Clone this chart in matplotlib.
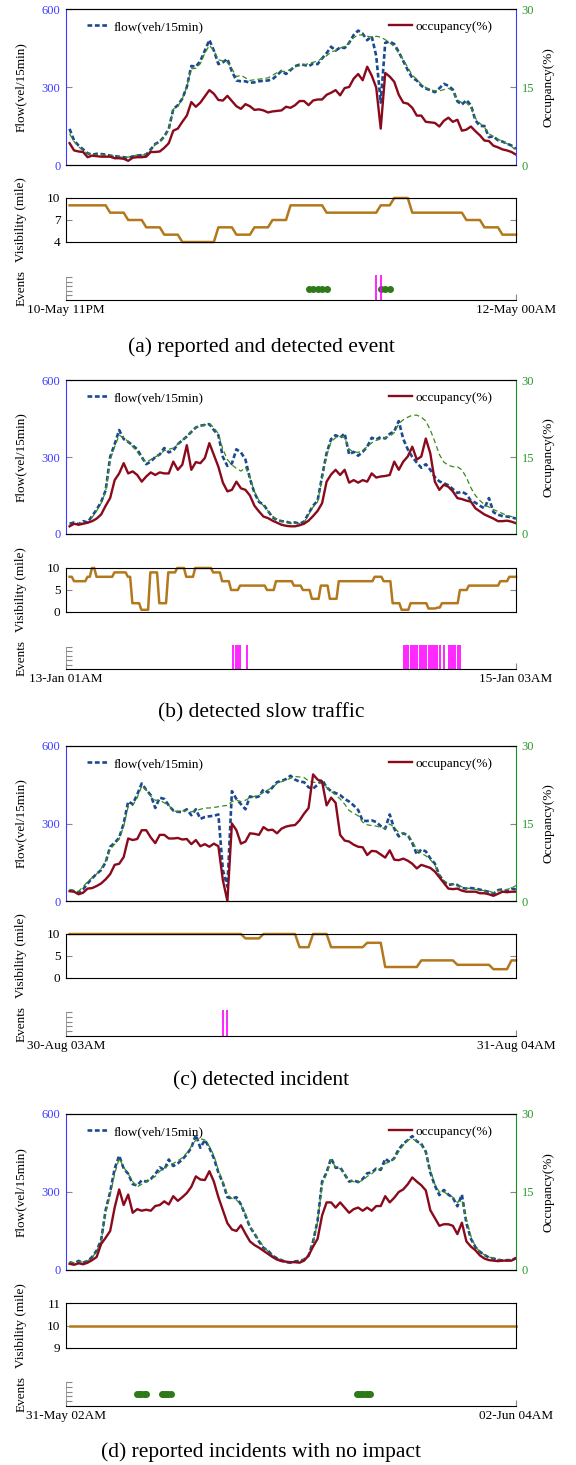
import numpy as np
import matplotlib
matplotlib.use('Agg')
import matplotlib.pyplot as plt

plt.rcParams['font.family'] = ['Liberation Serif', 'DejaVu Serif']

# ---------------- panel (a): 10-May 11PM .. 12-May 00AM, 15-min steps
a_flow = [139, 94, 75, 60, 45, 40, 43, 42, 40, 36,
          34, 32, 30, 27, 33, 36, 38, 40, 60, 81,
          90, 110, 139, 215, 230, 255, 300, 381, 378, 400,
          440, 481, 440, 388, 395, 408, 360, 325, 322, 322,
          316, 318, 322, 324, 325, 330, 345, 362, 350, 365,
          380, 386, 385, 380, 390, 388, 410, 430, 455, 440,
          452, 450, 470, 500, 517, 505, 480, 495, 420, 240,
          470, 475, 465, 435, 400, 365, 335, 325, 305, 294,
          288, 280, 295, 312, 305, 290, 245, 232, 250, 230,
          172, 150, 150, 107, 110, 95, 90, 82, 75, 62]
a_pred = [120, 90, 70, 55, 45, 40, 40, 40, 38, 36,
          33, 31, 30, 30, 35, 38, 38, 40, 55, 80,
          90, 110, 135, 215, 225, 255, 300, 370, 372, 390,
          430, 460, 440, 405, 400, 395, 370, 340, 345, 335,
          325, 328, 330, 333, 335, 345, 355, 360, 360, 368,
          378, 382, 385, 390, 395, 400, 410, 420, 435, 440,
          450, 455, 470, 490, 500, 500, 495, 492, 495, 492,
          482, 470, 455, 430, 405, 375, 345, 330, 310, 298,
          290, 285, 285, 290, 295, 285, 250, 240, 240, 220,
          180, 160, 145, 120, 110, 100, 90, 82, 72, 55]
a_occ = [4.2, 2.8, 2.6, 2.5, 1.5, 1.8, 1.7, 1.6, 1.6, 1.6,
         1.3, 1.3, 1.2, 0.8, 1.4, 1.5, 1.5, 1.6, 2.5, 2.5,
         2.6, 3.3, 4.2, 6.6, 7.0, 8.3, 9.5, 12.1, 11.2, 12.0,
         13.2, 14.4, 13.7, 12.5, 12.4, 13.3, 12.3, 11.3, 10.8, 11.7,
         11.3, 10.6, 10.7, 10.5, 10.1, 10.3, 10.4, 10.5, 11.2, 11.0,
         11.5, 12.3, 12.3, 11.5, 12.4, 12.6, 12.6, 13.5, 13.9, 14.4,
         13.4, 14.8, 15.0, 16.6, 17.5, 16.3, 18.9, 17.2, 14.9, 7.0,
         17.7, 17.0, 16.0, 13.5, 12.0, 11.8, 11.0, 9.5, 9.5, 8.3,
         8.2, 8.1, 7.4, 8.5, 9.1, 8.3, 8.7, 6.6, 6.8, 7.4,
         6.5, 5.7, 4.7, 4.6, 3.7, 3.4, 3.0, 2.8, 2.5, 2.0]
a_vis_levels = [9, 8, 7, 6, 5, 4, 6, 5, 6, 7, 9, 8, 9, 10, 8, 7, 6, 5]
a_vis_runs = [9, 4, 4, 4, 4, 8, 4, 4, 4, 4, 8, 12, 3, 4, 12, 4, 4, 4]
a_reported = [53, 54, 55, 56, 57, 69, 70, 71]
a_detected = [68, 69]

# ---------------- panel (b): 13-Jan 01AM .. 15-Jan 03AM, 30-min samples
b_flow = [40, 45, 38, 50, 45, 70, 95, 125, 170, 300,
          350, 405, 370, 359, 345, 330, 300, 272, 282, 300,
          310, 335, 318, 325, 350, 365, 380, 398, 415, 422,
          425, 428, 405, 385, 300, 265, 275, 330, 318, 290,
          215, 160, 125, 115, 90, 65, 55, 50, 48, 43,
          45, 40, 48, 80, 110, 130, 225, 315, 370, 385,
          375, 392, 310, 320, 305, 320, 340, 375, 368, 378,
          372, 390, 400, 440, 370, 330, 300, 278, 258, 272,
          250, 222, 205, 198, 190, 175, 160, 165, 155, 130,
          122, 110, 100, 140, 85, 75, 70, 68, 65, 60]
b_pred = [35, 40, 38, 45, 42, 65, 90, 120, 165, 290,
          340, 385, 375, 360, 340, 320, 295, 280, 290, 300,
          310, 325, 330, 335, 350, 365, 380, 400, 415, 422,
          425, 430, 415, 390, 330, 290, 270, 255, 245, 260,
          220, 165, 130, 110, 90, 70, 55, 50, 45, 42,
          42, 40, 45, 75, 105, 125, 215, 305, 360, 375,
          380, 375, 330, 320, 318, 325, 340, 355, 365, 370,
          375, 380, 395, 430, 445, 455, 463, 463, 455, 440,
          405, 360, 310, 280, 268, 262, 262, 250, 220, 180,
          150, 130, 115, 105, 95, 88, 80, 72, 68, 62]
b_occ = [1.5, 2.0, 1.8, 2.0, 2.2, 2.5, 3.0, 3.8, 5.5, 7.0,
         10.5, 11.8, 13.8, 11.8, 12.2, 11.5, 10.2, 11.2, 12.0, 11.5,
         12.0, 11.8, 11.8, 14.1, 12.5, 13.5, 17.3, 12.5, 14.0, 13.8,
         14.8, 17.7, 15.4, 13.1, 10.0, 8.3, 8.6, 10.2, 8.9, 8.6,
         7.5, 5.5, 4.4, 3.4, 3.1, 2.6, 2.2, 1.8, 1.6, 1.5,
         1.5, 1.7, 2.0, 2.6, 3.5, 4.5, 6.0, 10.2, 11.6, 12.5,
         11.5, 12.5, 10.0, 10.5, 10.0, 10.5, 10.2, 11.8, 11.0, 11.2,
         11.3, 11.5, 14.1, 12.5, 14.1, 15.1, 17.0, 14.5, 15.1, 18.6,
         15.7, 10.2, 8.6, 9.6, 9.2, 8.3, 7.0, 6.8, 6.5, 6.3,
         5.0, 4.4, 3.8, 3.4, 3.0, 2.5, 2.5, 2.6, 2.4, 2.1]
b_vis_levels = [8, 7, 8, 10, 8, 9, 8, 2, 0.5, 9, 2, 9, 10, 8, 10, 9, 7, 5, 6, 5,
                7, 6, 5, 3, 6, 3, 7, 8, 7, 2, 0.5, 2, 0.8, 1.0, 2, 5, 6, 7, 8]
b_vis_runs = [2, 6, 2, 2, 8, 6, 2, 4, 4, 4, 4, 4, 4, 4, 8, 4, 4, 4, 12, 4,
              8, 4, 4, 4, 4, 4, 16, 4, 4, 4, 4, 8, 4, 2, 8, 4, 14, 4, 4]
b_reported = []
b_detected = [73, 74, 75, 76, 79, 149, 150, 151, 152, 153, 154, 155, 156, 157,
              158, 159, 160, 161, 162, 163, 164, 165, 167, 169, 170, 171, 172,
              173, 174]

# ---------------- panel (c): 30-Aug 03AM .. 31-Aug 04AM, 15-min steps
c_flow = [42, 38, 32, 45, 68, 88, 105, 120, 150, 210,
          225, 245, 300, 385, 375, 412, 455, 430, 410, 360,
          400, 395, 370, 350, 345, 345, 355, 332, 355, 318,
          325, 328, 330, 335, 120, 55, 425, 395, 375, 355,
          405, 400, 405, 432, 420, 440, 460, 465, 472, 485,
          470, 462, 460, 440, 435, 450, 470, 440, 425, 418,
          410, 395, 385, 370, 352, 310, 310, 312, 306, 290,
          280, 335, 280, 250, 262, 255, 225, 180, 200, 192,
          165, 145, 100, 75, 62, 65, 62, 50, 48, 50,
          48, 44, 40, 35, 28, 42, 45, 38, 48, 45]
c_pred = [45, 40, 38, 55, 75, 90, 105, 125, 155, 200,
          220, 240, 290, 365, 370, 400, 445, 430, 405, 390,
          390, 380, 370, 350, 345, 348, 350, 345, 350, 355,
          360, 360, 362, 365, 368, 370, 385, 390, 385, 390,
          400, 405, 410, 420, 430, 440, 455, 462, 468, 475,
          482, 480, 478, 465, 460, 458, 455, 440, 425, 410,
          395, 375, 350, 340, 330, 305, 295, 292, 290, 285,
          280, 298, 285, 265, 262, 258, 230, 200, 185, 175,
          160, 140, 100, 78, 68, 65, 60, 55, 50, 48,
          45, 42, 40, 38, 32, 40, 42, 45, 50, 60]
c_occ = [1.9, 1.8, 1.3, 1.6, 2.4, 2.5, 2.9, 3.4, 4.2, 5.2,
         7.0, 7.2, 8.5, 12.1, 11.8, 12.0, 13.7, 13.7, 12.3, 11.2,
         12.8, 12.8, 12.1, 12.1, 12.2, 11.9, 12.0, 11.0, 11.8, 10.6,
         11.0, 10.5, 11.1, 10.6, 4.0, 0.0, 15.0, 13.7, 11.1, 11.5,
         13.1, 13.0, 12.8, 14.3, 13.7, 13.8, 13.1, 14.0, 14.4, 14.6,
         14.7, 15.6, 16.9, 18.0, 24.5, 23.5, 23.1, 18.5, 20.0, 19.0,
         12.8, 11.7, 11.5, 10.9, 10.5, 10.4, 8.9, 9.7, 9.6, 9.0,
         8.4, 9.8, 8.0, 7.9, 8.2, 7.8, 7.2, 6.3, 7.0, 6.7,
         6.4, 5.7, 4.6, 3.5, 2.4, 2.3, 2.4, 2.0, 1.8, 1.8,
         1.8, 1.5, 1.5, 1.3, 1.0, 1.4, 1.8, 1.7, 1.8, 1.8]
c_vis_levels = [10, 9, 10, 7, 10, 7, 8, 2.5, 4, 3, 2, 4]
c_vis_runs = [39, 4, 8, 3, 4, 8, 4, 8, 8, 8, 4, 2]
c_reported = []
c_detected = [34, 35]

# ---------------- panel (d): 31-May 02AM .. 02-Jun 04AM, 30-min samples
d_flow = [30, 25, 35, 28, 35, 50, 75, 115, 230, 300,
          390, 440, 390, 370, 330, 325, 345, 340, 350, 368,
          395, 385, 425, 400, 410, 425, 445, 470, 520, 470,
          500, 470, 430, 375, 335, 280, 275, 280, 252, 210,
          165, 140, 110, 85, 75, 55, 45, 38, 30, 28,
          33, 35, 40, 55, 110, 190, 340, 375, 430, 393,
          395, 368, 340, 345, 338, 350, 372, 375, 390, 385,
          428, 415, 430, 465, 485, 500, 515, 495, 485, 455,
          375, 325, 288, 308, 290, 278, 245, 290, 180, 120,
          88, 70, 58, 48, 44, 40, 36, 38, 38, 46]
d_pred = [30, 28, 32, 30, 35, 48, 72, 110, 220, 290,
          370, 430, 395, 370, 340, 320, 330, 340, 350, 360,
          380, 390, 405, 410, 420, 432, 450, 475, 500, 505,
          500, 475, 440, 385, 340, 290, 275, 270, 250, 215,
          170, 140, 115, 90, 72, 55, 45, 38, 32, 30,
          32, 35, 40, 55, 105, 185, 330, 370, 425, 395,
          390, 370, 345, 340, 338, 345, 360, 370, 385, 390,
          410, 415, 430, 455, 480, 500, 505, 495, 480, 450,
          385, 330, 300, 300, 290, 280, 260, 270, 195, 130,
          90, 70, 58, 50, 45, 40, 36, 38, 38, 42]
d_occ = [1.2, 1.0, 1.3, 1.1, 1.4, 1.9, 2.5, 5.0, 6.2, 7.5,
         12.0, 15.5, 12.5, 14.5, 11.0, 11.7, 11.4, 11.6, 11.4, 12.3,
         12.5, 13.2, 12.6, 14.2, 13.3, 14.0, 14.8, 16.0, 18.0, 17.4,
         17.3, 19.0, 17.0, 14.0, 11.5, 9.0, 7.8, 7.5, 8.6, 7.0,
         5.5, 4.8, 4.3, 3.7, 3.1, 2.5, 2.0, 1.7, 1.6, 1.5,
         1.5, 1.4, 1.8, 2.8, 4.5, 6.0, 10.5, 13.0, 13.0, 12.0,
         13.0, 12.0, 11.0, 11.7, 12.0, 11.4, 12.0, 11.4, 12.3, 12.3,
         14.2, 13.0, 13.9, 15.0, 15.5, 16.5, 17.8, 17.0, 16.3, 15.3,
         11.5, 10.0, 8.5, 8.8, 8.8, 8.5, 6.9, 9.1, 5.5, 4.5,
         3.8, 2.8, 2.2, 1.9, 1.8, 1.7, 1.8, 1.8, 1.8, 2.3]
d_vis_levels = [10]
d_vis_runs = [200]
d_reported = [30, 31, 32, 33, 34, 41, 42, 43, 44, 45,
              128, 129, 130, 131, 132, 133, 134]
d_detected = []

FLOW_C = '#1c4a8f'
PRED_C = '#3a8a1c'
OCC_C = '#8a0a1c'
VIS_C = '#b3781c'
EVT_C = '#2e7a1a'
DET_C = '#ff00ff'
BLUE_T = '#3c3cff'
GREEN_T = '#2a9a2a'
TICK_C = '#888888'

W_PX, H_PX = 576, 1465
L, W = 66 / W_PX, 450 / W_PX
XLIM = (-0.008, 1.0)


def fy(px):
    return 1 - px / H_PX


panels = [
    dict(flow=a_flow, pred=a_pred, occ=a_occ, vis=np.repeat(a_vis_levels, a_vis_runs),
         vis_lim=(4, 10), vis_ticks=[4, 7, 10], rep=a_reported, det=a_detected, steps=100,
         start='10-May 11PM', end='12-May 00AM', right_c='#3c3cff',
         caption='(a) reported and detected event',
         rows=(9, 165, 198, 242, 277, 300, 347)),
    dict(flow=b_flow, pred=b_pred, occ=b_occ, vis=np.repeat(b_vis_levels, b_vis_runs),
         vis_lim=(0, 10), vis_ticks=[0, 5, 10], rep=b_reported, det=b_detected, steps=200,
         start='13-Jan 01AM', end='15-Jan 03AM', right_c='#1e8c1e',
         caption='(b) detected slow traffic',
         rows=(380, 534, 568, 612, 647, 669, 713)),
    dict(flow=c_flow, pred=c_pred, occ=c_occ, vis=np.repeat(c_vis_levels, c_vis_runs),
         vis_lim=(0, 10), vis_ticks=[0, 5, 10], rep=c_reported, det=c_detected, steps=100,
         start='30-Aug 03AM', end='31-Aug 04AM', right_c='#1e8c1e',
         caption='(c) detected incident',
         rows=(746, 901, 934, 978, 1012, 1036, 1081)),
    dict(flow=d_flow, pred=d_pred, occ=d_occ, vis=np.repeat(d_vis_levels, d_vis_runs),
         vis_lim=(9, 11), vis_ticks=[9, 10, 11], rep=d_reported, det=d_detected, steps=200,
         start='31-May 02AM', end='02-Jun 04AM', right_c='#1e8c1e',
         caption='(d) reported incidents with no impact',
         rows=(1114, 1270, 1303, 1348, 1382, 1406, 1452)),
]

fig = plt.figure(figsize=(W_PX / 100, H_PX / 100), dpi=100)

for p in panels:
    top, bot, vtop, vbot, etop, ebot, cap_y = p['rows']

    # flow / occupancy
    ax = fig.add_axes([L, fy(bot), W, (bot - top) / H_PX])
    ax2 = ax.twinx()
    t = np.linspace(0, 1, len(p['flow']))
    h_flow, = ax.plot(t, p['flow'], color=FLOW_C, lw=1.9, ls=(0, (1.8, 1.0)), zorder=2)
    ax.plot(t, p['pred'], color=PRED_C, lw=0.9, ls=(0, (4, 2.5)), zorder=3)
    h_occ, = ax2.plot(t, p['occ'], color=OCC_C, lw=1.7)
    ax.set_xlim(*XLIM)
    ax.set_ylim(0, 600)
    ax2.set_ylim(0, 30)
    ax.set_xticks([])
    ax.set_yticks([0, 300, 600])
    ax2.set_yticks([0, 15, 30])
    ax.tick_params(axis='y', direction='in', length=4, color=TICK_C,
                   labelcolor=BLUE_T, labelsize=9, pad=4)
    ax2.tick_params(axis='y', direction='in', length=4, color=TICK_C,
                    labelcolor=GREEN_T, labelsize=9, pad=4)
    ax.spines['right'].set_visible(False)
    ax2.spines['left'].set_visible(False)
    ax.spines['left'].set_color('#3c3cff')
    ax2.spines['right'].set_color(p['right_c'])
    ax.set_ylabel('Flow(vel/15min)', fontsize=9.5)
    ax.yaxis.set_label_coords(-0.086, 0.5)
    ax2.set_ylabel('Occupancy(%)', fontsize=9.5)
    ax2.yaxis.set_label_coords(1.058, 0.5)
    leg = ax2.legend([h_flow], ['flow(veh/15min)'], loc='upper left', frameon=False,
                     fontsize=9.5, handlelength=1.7, handletextpad=0.3,
                     borderaxespad=0.5, bbox_to_anchor=(0.02, 1.0))
    ax2.add_artist(leg)
    ax2.legend([h_occ], ['occupancy(%)'], loc='upper right', frameon=False,
               fontsize=9.5, handlelength=1.7, handletextpad=0.3,
               borderaxespad=0.5, bbox_to_anchor=(0.975, 1.0))

    # visibility
    axv = fig.add_axes([L, fy(vbot), W, (vbot - vtop) / H_PX])
    tv = np.linspace(0, 1, len(p['vis']))
    axv.plot(tv, p['vis'], color=VIS_C, lw=1.8, clip_on=False)
    axv.set_xlim(*XLIM)
    axv.set_ylim(*p['vis_lim'])
    axv.set_yticks(p['vis_ticks'])
    axv.set_xticks([])
    axv.tick_params(axis='y', direction='in', right=True, length=4, color=TICK_C,
                    labelsize=9.5, pad=4)
    axv.set_ylabel('Visibility (mile)', fontsize=9.5)
    axv.yaxis.set_label_coords(-0.086, 0.5)

    # events
    axe = fig.add_axes([L, fy(ebot), W, (ebot - etop) / H_PX])
    axe.set_xlim(*XLIM)
    axe.set_ylim(0, 1)
    for s in ('top', 'right'):
        axe.spines[s].set_visible(False)
    axe.spines['left'].set_color(TICK_C)
    axe.spines['left'].set_linewidth(0.6)
    axe.set_yticks([0.2, 0.4, 0.6, 0.8, 1.0])
    axe.set_yticklabels([])
    axe.tick_params(axis='y', direction='in', length=4, color=TICK_C)
    axe.set_xticks([XLIM[0], XLIM[1]])
    axe.set_xticklabels([p['start'], p['end']])
    axe.tick_params(axis='x', direction='in', length=4, color=TICK_C, labelsize=9.5, pad=3)
    steps = p['steps']
    if p['rep']:
        axe.plot(np.array(p['rep']) / (steps - 1), np.full(len(p['rep']), 0.5), 'o',
                 color=EVT_C, ms=4, clip_on=False)
    if p['det']:
        axe.vlines(np.array(p['det']) / (steps - 1), 0, 1.07, color=DET_C, lw=1.2,
                   clip_on=False)
    axe.set_ylabel('Events', fontsize=9.5)
    axe.yaxis.set_label_coords(-0.086, 0.5)

    fig.text(261 / W_PX, fy(cap_y), p['caption'], ha='center', va='center', fontsize=15.5)

fig.savefig('out.png', dpi=100)
